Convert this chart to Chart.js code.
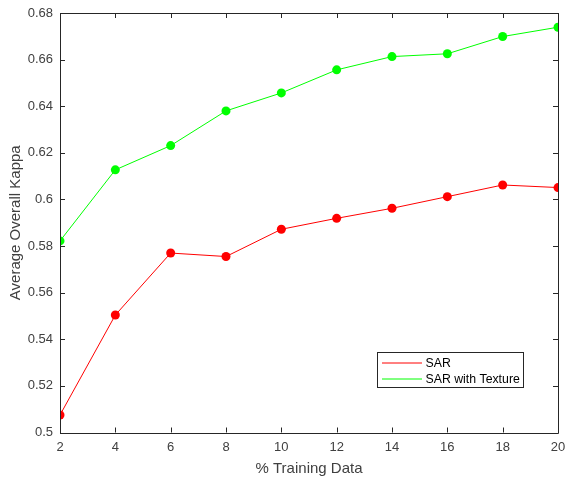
<!DOCTYPE html>
<html>
<head>
<meta charset="utf-8">
<script src="https://cdn.jsdelivr.net/npm/chart.js@4/dist/chart.umd.min.js"></script>
<style>
  html, body { margin: 0; padding: 0; background: #fff; }
  #wrap { width: 565px; height: 481px; }
</style>
</head>
<body>
<div id="wrap"><canvas id="c" width="565" height="481"></canvas></div>
<script>
// Percentage of training data used
const trainingPct = [2, 4, 6, 8, 10, 12, 14, 16, 18, 20];
// Average overall kappa, SAR only
const sarKappa = [0.5075, 0.5504, 0.5770, 0.5755, 0.5872, 0.5919, 0.5962, 0.6012, 0.6062, 0.6051];
// Average overall kappa, SAR plus texture features
const sarTextureKappa = [0.5822, 0.6127, 0.6231, 0.6380, 0.6457, 0.6556, 0.6613, 0.6625, 0.6699, 0.6739];
const seriesNames = ['SAR', 'SAR with Texture'];
const xTicks = [2, 4, 6, 8, 10, 12, 14, 16, 18, 20];
const yTicks = [0.5, 0.52, 0.54, 0.56, 0.58, 0.6, 0.62, 0.64, 0.66, 0.68];

const FONT = 'Liberation Sans, Arial, sans-serif';
const AXIS = '#262626';
const TEXT = '#404040';

// Box-style frame with inward ticks on all four sides
const framePlugin = {
  id: 'frame',
  afterDatasetsDraw(chart) {
    const { ctx, chartArea: a, scales } = chart;
    ctx.save();
    ctx.strokeStyle = AXIS;
    ctx.lineWidth = 1;
    ctx.beginPath();
    ctx.rect(Math.round(a.left) + 0.5, Math.round(a.top) + 0.5,
             Math.round(a.right - a.left), Math.round(a.bottom - a.top));
    ctx.stroke();
    const len = 5;
    ctx.beginPath();
    xTicks.forEach(v => {
      const x = Math.round(scales.x.getPixelForValue(v)) + 0.5;
      ctx.moveTo(x, a.bottom); ctx.lineTo(x, a.bottom - len);
      ctx.moveTo(x, a.top); ctx.lineTo(x, a.top + len);
    });
    yTicks.forEach(v => {
      const y = Math.round(scales.y.getPixelForValue(v)) + 0.5;
      ctx.moveTo(a.left, y); ctx.lineTo(a.left + len, y);
      ctx.moveTo(a.right, y); ctx.lineTo(a.right - len, y);
    });
    ctx.stroke();
    ctx.restore();
  }
};

// Legend box drawn inside the plot area, lower right
const boxLegendPlugin = {
  id: 'boxLegend',
  afterDraw(chart) {
    const { ctx, chartArea: a } = chart;
    const w = 146, h = 35;
    const left = Math.round(a.right - 35 - w) + 0.5;
    const top = Math.round(a.bottom - 45.5 - h) + 0.5;
    ctx.save();
    ctx.fillStyle = '#fff';
    ctx.fillRect(left, top, w, h);
    ctx.strokeStyle = AXIS;
    ctx.lineWidth = 1;
    ctx.strokeRect(left, top, w, h);
    ctx.font = '12.3px ' + FONT;
    ctx.textBaseline = 'middle';
    chart.data.datasets.forEach((ds, i) => {
      const y = top + 10.5 + i * 16;
      ctx.strokeStyle = ds.borderColor;
      ctx.beginPath();
      ctx.moveTo(left + 4.5, y);
      ctx.lineTo(left + 44.5, y);
      ctx.stroke();
      ctx.fillStyle = '#000';
      ctx.fillText(ds.label, left + 48, y + 0.5);
    });
    ctx.restore();
  }
};

new Chart(document.getElementById('c'), {
  type: 'line',
  data: {
    datasets: [
      {
        label: seriesNames[0],
        data: trainingPct.map((x, i) => ({ x, y: sarKappa[i] })),
        borderColor: '#ff0000',
        backgroundColor: '#ff0000',
        borderWidth: 1,
        pointRadius: 4.5,
        pointBorderWidth: 0,
        tension: 0
      },
      {
        label: seriesNames[1],
        data: trainingPct.map((x, i) => ({ x, y: sarTextureKappa[i] })),
        borderColor: '#00ff00',
        backgroundColor: '#00ff00',
        borderWidth: 1,
        pointRadius: 4.5,
        pointBorderWidth: 0,
        tension: 0
      }
    ]
  },
  options: {
    responsive: false,
    animation: false,
    devicePixelRatio: 1,
    layout: { padding: { top: 13, right: 7, left: 1, bottom: 0 } },
    plugins: { legend: { display: false }, tooltip: { enabled: false } },
    scales: {
      x: {
        type: 'linear',
        min: 2, max: 20,
        afterBuildTicks(scale) { scale.ticks = xTicks.map(v => ({ value: v })); },
        afterFit(scale) { scale.height = 48.5; scale.paddingLeft = 0; scale.paddingRight = 0; },
        grid: { display: false, drawTicks: false },
        border: { display: false },
        ticks: { color: TEXT, font: { family: FONT, size: 13 }, padding: 7, maxRotation: 0 },
        title: { display: true, text: '% Training Data', color: TEXT, font: { family: FONT, size: 15 }, padding: { top: 2, bottom: 3 } }
      },
      y: {
        type: 'linear',
        min: 0.5, max: 0.68,
        afterBuildTicks(scale) { scale.ticks = yTicks.map(v => ({ value: v })); },
        afterFit(scale) { scale.width = 59; scale.paddingTop = 0; scale.paddingBottom = 0; },
        grid: { display: false, drawTicks: false },
        border: { display: false },
        ticks: {
          color: TEXT, font: { family: FONT, size: 13 }, padding: 7,
          callback: v => String(Number(v.toFixed(2)))
        },
        title: { display: true, text: 'Average Overall Kappa', color: TEXT, font: { family: FONT, size: 15 }, padding: { top: 6, bottom: 2 } }
      }
    }
  },
  plugins: [framePlugin, boxLegendPlugin]
});
</script>
</body>
</html>
